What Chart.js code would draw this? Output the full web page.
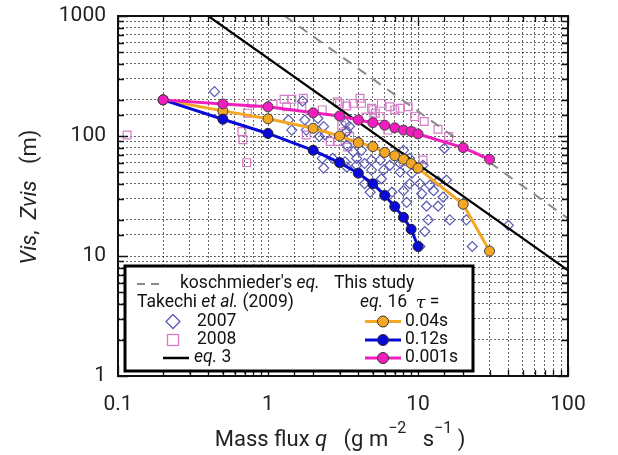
<!DOCTYPE html>
<html>
<head>
<meta charset="utf-8">
<script src="https://cdn.jsdelivr.net/npm/chart.js@4.4.1/dist/chart.umd.min.js"></script>
<style>
  html, body { margin: 0; padding: 0; background: #fff; }
  #wrap { position: relative; width: 618px; height: 455px; }
</style>
</head>
<body>
<div id="wrap"><canvas id="visChart" width="618" height="455"></canvas></div>
<script>
// mass flux q (g m-2 s-1) for the eq. 16 curves
const qTau = [0.2, 0.5, 1, 2, 3, 4, 5, 6, 7, 8, 9, 10, 20, 30];
const visTau004 = [200, 162, 139, 116, 100, 88, 81.5, 73, 68.5, 64, 59, 54, 27, 11];
const visTau012 = [200, 138, 105, 76, 60, 49, 40, 32, 25.8, 21, 16.7, 12];
const visTau0001 = [200, 185, 175, 156, 147, 136, 129, 123, 117, 112, 109, 104, 80, 64];

// Takechi et al. (2009) observations [q, Vis]
const takechi2007 = [
  [0.44, 234], [1.37, 136], [1.44, 112], [1.7, 195], [1.76, 136], [1.8, 112], [2.15, 140],
  [2.2, 99], [2.35, 120], [2.4, 102], [2.3, 65], [2.35, 54], [2.7, 65], [3.3, 128],
  [3.35, 109], [3.5, 120], [3.35, 84], [3.26, 61], [3.35, 55], [3.7, 74], [3.9, 65],
  [3.9, 57], [4.0, 90], [4.2, 76], [4.4, 59], [4.4, 40], [4.8, 34], [4.9, 63], [4.9, 52],
  [5.6, 63], [5.7, 44], [5.9, 52], [6.5, 57], [6.7, 34], [7.6, 59], [7.6, 50], [8.0, 76],
  [8.0, 35], [8.4, 28], [8.8, 65], [8.8, 40], [9.1, 49], [10.3, 40], [10.3, 12], [10.6, 33],
  [10.8, 57], [11.1, 16], [11.4, 26], [11.7, 20], [12, 39], [12.7, 35], [13.6, 42],
  [13.6, 26], [14.7, 31], [15, 79], [15.5, 43], [16.3, 20], [21, 20], [23, 12], [40, 18]
];
const takechi2008 = [
  [0.115, 102], [0.5, 150], [0.67, 109], [0.68, 93], [0.72, 60], [0.73, 155], [0.78, 187],
  [1.08, 184], [1.28, 202], [1.33, 175], [1.44, 202], [1.68, 175], [1.72, 206], [1.8, 102],
  [2.3, 165], [2.6, 90], [2.9, 193], [2.9, 90], [3.0, 187], [3.1, 122], [3.3, 109],
  [3.35, 178], [3.4, 81], [3.5, 99], [3.7, 187], [4.1, 206], [4.2, 187], [4.5, 144],
  [4.9, 170], [5.0, 165], [5.2, 155], [5.6, 145], [5.7, 187], [6.3, 112], [6.5, 175],
  [7.0, 165], [7.6, 170], [8.0, 61], [8.6, 175], [9.1, 109], [9.5, 145], [10.8, 63],
  [11, 132], [13.6, 114], [16, 99]
];

// straight lines on the log-log plot (end points)
const eq3Line = [[0.4, 1000], [100, 7.6]];
const koschLine = [[1.29, 1000], [100, 20.6]];

const colors = {
  orange: '#f5a623',
  blue: '#0a0ad8',
  magenta: '#f21dbf',
  diamond: '#5b5bb5',
  square: '#d67cc6',
  kosch: '#8a8a8a',
  ink: '#111111',
};
const FONT = 'Roboto, "Noto Sans", sans-serif';

const toXY = arr => arr.map(p => ({x: p[0], y: p[1]}));
const zipQ = vals => vals.map((v, i) => ({x: qTau[i], y: v}));
const isPow10 = v => Math.abs(Math.log10(v) - Math.round(Math.log10(v))) < 1e-6;

// draws a run of text pieces (normal / italic / superscript)
function drawRich(ctx, x, y, parts, size) {
  let cx = x;
  parts.forEach(p => {
    const s = p.sup ? Math.round(size * 0.72) : size;
    const fam = p.serif ? '"DejaVu Serif", serif' : FONT;
    ctx.font = (p.italic ? 'italic ' : '') + s + 'px ' + fam;
    ctx.fillText(p.t, cx, p.sup ? y - size * 0.5 : y);
    cx += ctx.measureText(p.t).width;
  });
  return cx - x;
}
function richWidth(ctx, parts, size) {
  ctx.save();
  let w = 0;
  parts.forEach(p => {
    const s = p.sup ? Math.round(size * 0.72) : size;
    ctx.font = (p.italic ? 'italic ' : '') + s + 'px ' + FONT;
    w += ctx.measureText(p.t).width;
  });
  ctx.restore();
  return w;
}

function markerSample(ctx, x, y, color) {
  ctx.strokeStyle = color;
  ctx.lineWidth = 3;
  ctx.beginPath();
  ctx.moveTo(x - 18, y); ctx.lineTo(x + 18, y);
  ctx.stroke();
  ctx.beginPath();
  ctx.arc(x, y, 5.5, 0, Math.PI * 2);
  ctx.fillStyle = color;
  ctx.fill();
  ctx.lineWidth = 1;
  ctx.strokeStyle = '#333';
  ctx.stroke();
}

// inner ticks, frame, legend box and axis titles
const decorations = {
  id: 'decorations',
  afterDraw(chart) {
    const {ctx, chartArea: a, scales: {x, y}} = chart;
    ctx.save();
    ctx.strokeStyle = colors.ink;
    ctx.lineWidth = 1.3;
    ctx.beginPath();
    x.ticks.forEach(t => {
      const px = Math.round(x.getPixelForValue(t.value)) + 0.5;
      const len = isPow10(t.value) ? 10 : 6;
      ctx.moveTo(px, a.bottom); ctx.lineTo(px, a.bottom - len);
      ctx.moveTo(px, a.top); ctx.lineTo(px, a.top + len);
    });
    y.ticks.forEach(t => {
      const py = Math.round(y.getPixelForValue(t.value)) + 0.5;
      const len = isPow10(t.value) ? 10 : 6;
      ctx.moveTo(a.left, py); ctx.lineTo(a.left + len, py);
      ctx.moveTo(a.right, py); ctx.lineTo(a.right - len, py);
    });
    ctx.stroke();
    ctx.lineWidth = 2;
    ctx.strokeRect(a.left, a.top, a.right - a.left, a.bottom - a.top);

    // legend
    const L = {x: 125, y: 266, w: 348, h: 105};
    ctx.fillStyle = '#fff';
    ctx.fillRect(L.x, L.y, L.w, L.h);
    ctx.lineWidth = 3;
    ctx.strokeStyle = '#000';
    ctx.strokeRect(L.x, L.y, L.w, L.h);

    const fs = 17.5;
    ctx.fillStyle = colors.ink;
    ctx.textBaseline = 'middle';
    ctx.textAlign = 'left';
    const rows = [284, 303, 321.5, 340, 358];

    ctx.strokeStyle = colors.kosch;
    ctx.lineWidth = 2;
    ctx.setLineDash([8, 6]);
    ctx.beginPath(); ctx.moveTo(137, rows[0]); ctx.lineTo(165, rows[0]); ctx.stroke();
    ctx.setLineDash([]);
    drawRich(ctx, 180, rows[0], [{t: "koschmieder's "}, {t: 'eq.', italic: true}], fs);
    drawRich(ctx, 334, rows[0], [{t: 'This study'}], fs);

    drawRich(ctx, 137, rows[1], [{t: 'Takechi '}, {t: 'et al.', italic: true}, {t: ' (2009)'}], fs);
    drawRich(ctx, 360, rows[1], [{t: 'eq.', italic: true}, {t: ' 16  '}, {t: 'τ', italic: true, serif: true}, {t: ' ='}], fs);

    ctx.strokeStyle = colors.diamond;
    ctx.lineWidth = 1.3;
    ctx.beginPath();
    ctx.moveTo(173, rows[2] - 7); ctx.lineTo(180, rows[2]); ctx.lineTo(173, rows[2] + 7);
    ctx.lineTo(166, rows[2]); ctx.closePath(); ctx.stroke();
    drawRich(ctx, 197, rows[2], [{t: '2007'}], fs);

    ctx.strokeStyle = colors.square;
    ctx.strokeRect(167.5, rows[3] - 5.5, 11, 11);
    drawRich(ctx, 197, rows[3], [{t: '2008'}], fs);

    ctx.strokeStyle = '#000';
    ctx.lineWidth = 2.5;
    ctx.beginPath(); ctx.moveTo(163, rows[4]); ctx.lineTo(189, rows[4]); ctx.stroke();
    drawRich(ctx, 194, rows[4], [{t: 'eq.', italic: true}, {t: ' 3'}], fs);

    markerSample(ctx, 383, rows[2], colors.orange);
    markerSample(ctx, 383, rows[3], colors.blue);
    markerSample(ctx, 383, rows[4], colors.magenta);
    ctx.fillStyle = colors.ink;
    drawRich(ctx, 405, rows[2], [{t: '0.04s'}], fs);
    drawRich(ctx, 405, rows[3], [{t: '0.12s'}], fs);
    drawRich(ctx, 405, rows[4], [{t: '0.001s'}], fs);

    // axis titles
    const ts = 22;
    const xParts = [{t: 'Mass flux '}, {t: 'q', italic: true}, {t: '   (g m'}, {t: '−2', sup: true},
      {t: '   s'}, {t: '−1', sup: true}, {t: ' )'}];
    ctx.fillStyle = '#222';
    drawRich(ctx, 340 - richWidth(ctx, xParts, ts) / 2, 440, xParts, ts);

    const yParts = [{t: 'Vis', italic: true}, {t: ',  '}, {t: 'Zvis', italic: true}, {t: '   (m)'}];
    ctx.translate(30, 197);
    ctx.rotate(-Math.PI / 2);
    drawRich(ctx, -richWidth(ctx, yParts, ts) / 2, 0, yParts, ts);
    ctx.restore();
  }
};

const tickLabel = v => isPow10(v) ? String(v) : '';

new Chart(document.getElementById('visChart'), {
  type: 'scatter',
  data: {
    datasets: [{
      label: '0.001s',
      data: zipQ(visTau0001),
      showLine: true,
      borderColor: colors.magenta,
      borderWidth: 3,
      pointBackgroundColor: colors.magenta,
      pointBorderColor: '#444',
      pointBorderWidth: 1,
      pointRadius: 5,
      order: 0,
    }, {
      label: '0.12s',
      data: zipQ(visTau012),
      showLine: true,
      borderColor: colors.blue,
      borderWidth: 3,
      pointBackgroundColor: colors.blue,
      pointBorderColor: '#222',
      pointBorderWidth: 1,
      pointRadius: 5,
      order: 1,
    }, {
      label: '0.04s',
      data: zipQ(visTau004),
      showLine: true,
      borderColor: colors.orange,
      borderWidth: 3,
      pointBackgroundColor: colors.orange,
      pointBorderColor: '#444',
      pointBorderWidth: 1,
      pointRadius: 5,
      order: 2,
    }, {
      label: 'eq. 3',
      data: toXY(eq3Line),
      showLine: true,
      borderColor: '#000',
      borderWidth: 2.2,
      pointRadius: 0,
      order: 3,
    }, {
      label: "koschmieder's eq.",
      data: toXY(koschLine),
      showLine: true,
      borderColor: colors.kosch,
      borderWidth: 2,
      borderDash: [10, 8],
      pointRadius: 0,
      order: 4,
    }, {
      label: '2007',
      data: toXY(takechi2007),
      pointStyle: 'rectRot',
      pointRadius: 5,
      borderColor: colors.diamond,
      backgroundColor: 'rgba(0,0,0,0)',
      borderWidth: 1.2,
      order: 5,
    }, {
      label: '2008',
      data: toXY(takechi2008),
      pointStyle: 'rect',
      pointRadius: 5.5,
      borderColor: colors.square,
      backgroundColor: 'rgba(0,0,0,0)',
      borderWidth: 1.2,
      order: 6,
    }]
  },
  options: {
    responsive: false,
    animation: false,
    layout: { padding: { left: 0, right: 50, top: 16, bottom: 0 } },
    plugins: {
      legend: { display: false },
      tooltip: { enabled: false },
    },
    scales: {
      x: {
        type: 'logarithmic',
        min: 0.1,
        max: 100,
        afterFit: s => { s.height = 79; s.paddingLeft = 0; s.paddingRight = 0; },
        grid: { color: 'rgba(0,0,0,0.6)', lineWidth: 1, drawTicks: false },
        border: { display: false, dash: [2, 2] },
        ticks: {
          autoSkip: false,
          maxRotation: 0,
          padding: 16,
          color: '#222',
          font: { family: FONT, size: 21 },
          callback: tickLabel,
        }
      },
      y: {
        type: 'logarithmic',
        min: 1,
        max: 1000,
        afterFit: s => { s.width = 118; s.paddingTop = 0; s.paddingBottom = 0; },
        grid: { color: 'rgba(0,0,0,0.6)', lineWidth: 1, drawTicks: false },
        border: { display: false, dash: [2, 2] },
        ticks: {
          autoSkip: false,
          padding: 12,
          color: '#222',
          font: { family: FONT, size: 21 },
          callback: tickLabel,
        }
      }
    }
  },
  plugins: [decorations]
});
</script>
</body>
</html>
